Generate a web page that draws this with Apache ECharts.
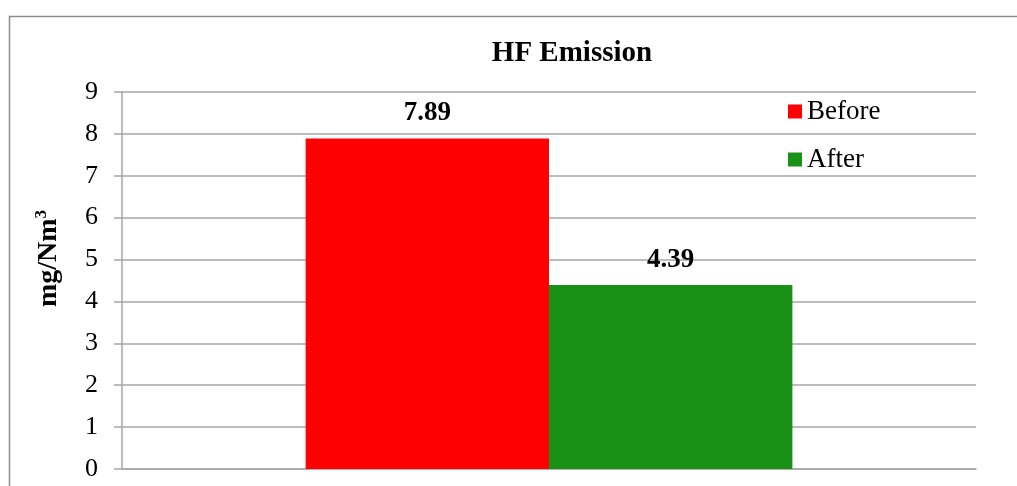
<!DOCTYPE html>
<html><head><meta charset="utf-8">
<script src="https://cdn.jsdelivr.net/npm/echarts@6/dist/echarts.min.js"></script>
<style>html,body{margin:0;padding:0;background:#fff}#c{width:1017px;height:486px}</style>
</head><body><div id="c"></div>
<script>
const categories = ['HF'];
const seriesNames = ['Before', 'After'];
const beforeValues = [7.89];
const afterValues = [4.39];
const yTicks = [0, 1, 2, 3, 4, 5, 6, 7, 8, 9];
const titleText = 'HF Emission';

const font = '"Liberation Serif", "Times New Roman", serif';
const chart = echarts.init(document.getElementById('c'), null, {renderer: 'canvas'});
chart.setOption({
  backgroundColor: '#fff',
  animation: false,
  graphic: [{
    type: 'rect', left: 7, top: 14, shape: {width: 1020, height: 490},
    style: {fill: 'none', stroke: '#8c8c8c', lineWidth: 1.5}, silent: true
  }],
  title: {
    text: titleText, left: 567, top: 34, textAlign: 'center',
    textStyle: {fontFamily: font, fontWeight: 'bold', fontSize: 29, color: '#000'}
  },
  legend: {
    orient: 'vertical', left: 783, top: 93, itemWidth: 14, itemHeight: 14, itemGap: 21,
    icon: 'rect', data: seriesNames,
    textStyle: {fontFamily: font, fontSize: 27, color: '#000'}
  },
  grid: {left: 122, right: 41, top: 92, bottom: 17, containLabel: false},
  xAxis: {
    type: 'category', data: categories,
    axisLine: {show: true, lineStyle: {color: '#a6a6a6', width: 1.5}},
    axisTick: {show: false}, axisLabel: {show: false}, splitLine: {show: false}
  },
  yAxis: {
    type: 'value', min: yTicks[0], max: yTicks[yTicks.length - 1], interval: 1,
    name: '{a|mg/Nm}{s|3}', nameLocation: 'middle', nameGap: 58, nameRotate: 90,
    nameTextStyle: {
      padding: [0, 0, 0, 44],
      rich: {
        a: {fontFamily: font, fontWeight: 'bold', fontSize: 28, color: '#000'},
        s: {fontFamily: font, fontWeight: 'bold', fontSize: 17, color: '#000', verticalAlign: 'top', padding: [0, 0, 14, 0]}
      }
    },
    axisLine: {show: true, lineStyle: {color: '#a6a6a6', width: 1.5}},
    axisTick: {show: true, inside: false, length: 8, lineStyle: {color: '#a6a6a6', width: 1.5}},
    axisLabel: {margin: 24, fontFamily: font, fontSize: 26, color: '#000'},
    splitLine: {show: true, lineStyle: {color: '#a6a6a6', width: 1.5}}
  },
  series: [
    {
      name: seriesNames[0], type: 'bar', data: beforeValues, barGap: '0%', barCategoryGap: '43%',
      itemStyle: {color: '#ff0000'},
      label: {show: true, position: 'top', distance: 12, fontFamily: font, fontWeight: 'bold', fontSize: 27, color: '#000'}
    },
    {
      name: seriesNames[1], type: 'bar', data: afterValues, barGap: '0%', barCategoryGap: '43%',
      itemStyle: {color: '#199016'},
      label: {show: true, position: 'top', distance: 12, fontFamily: font, fontWeight: 'bold', fontSize: 27, color: '#000'}
    }
  ]
});
</script></body></html>
